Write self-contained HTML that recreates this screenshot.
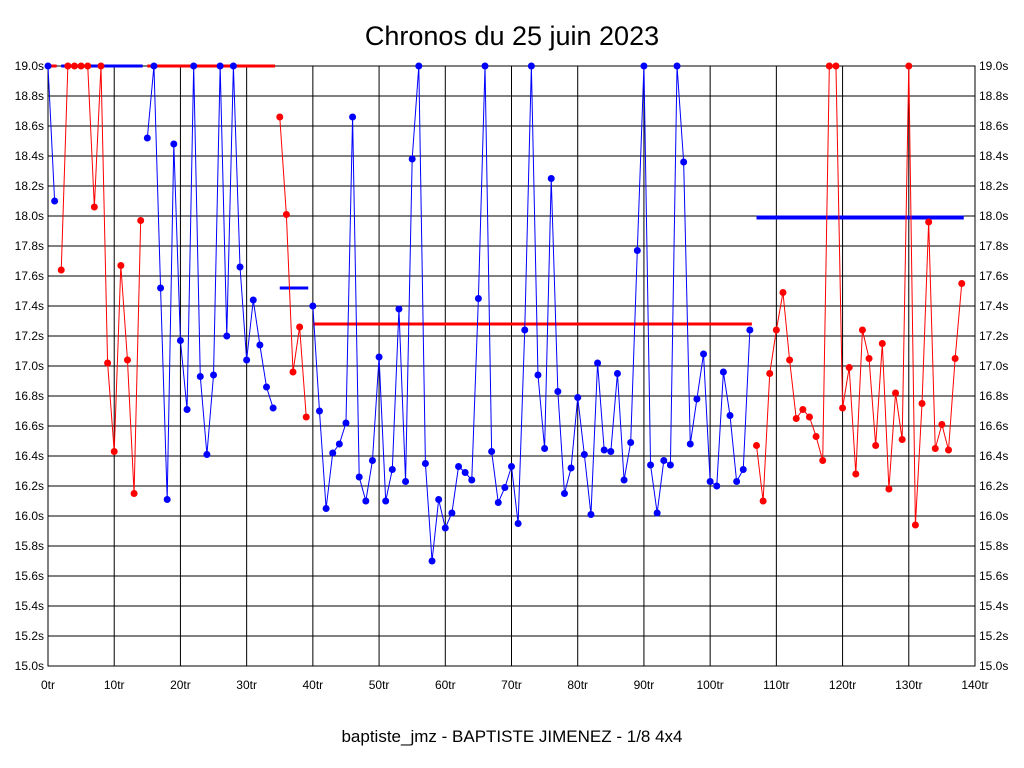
<!DOCTYPE html>
<html><head><meta charset="utf-8"><style>
body{margin:0;background:#fff;}
svg{display:block;font-family:"Liberation Sans",sans-serif;}
</style></head><body>
<svg id="chart" width="1024" height="768" viewBox="0 0 1024 768">
<rect x="0" y="0" width="1024" height="768" fill="#fff"/>
<text x="512" y="45" text-anchor="middle" font-size="27">Chronos du 25 juin 2023</text>
<text x="512" y="742" text-anchor="middle" font-size="17">baptiste_jmz - BAPTISTE JIMENEZ - 1/8 4x4</text>
<g id="grid"></g><g id="avg"></g><g id="series"></g>
</svg>
<script>
const laps = [19.0,18.10,17.64,19.0,19.0,19.0,19.0,18.06,19.0,17.02,16.43,17.67,17.04,16.15,17.97,18.52,19.0,17.52,16.11,18.48,17.17,16.71,19.0,16.93,16.41,16.94,19.0,17.20,19.0,17.66,17.04,17.44,17.14,16.86,16.72,18.66,18.01,16.96,17.26,16.66,17.40,16.70,16.05,16.42,16.48,16.62,18.66,16.26,16.10,16.37,17.06,16.10,16.31,17.38,16.23,18.38,19.0,16.35,15.70,16.11,15.92,16.02,16.33,16.29,16.24,17.45,19.0,16.43,16.09,16.19,16.33,15.95,17.24,19.0,16.94,16.45,18.25,16.83,16.15,16.32,16.79,16.41,16.01,17.02,16.44,16.43,16.95,16.24,16.49,17.77,19.0,16.34,16.02,16.37,16.34,19.0,18.36,16.48,16.78,17.08,16.23,16.20,16.96,16.67,16.23,16.31,17.24,16.47,16.10,16.95,17.24,17.49,17.04,16.65,16.71,16.66,16.53,16.37,19.0,19.0,16.72,16.99,16.28,17.24,17.05,16.47,17.15,16.18,16.82,16.51,19.0,15.94,16.75,17.96,16.45,16.61,16.44,17.05,17.55];
const segStarts = [0,2,15,35,40,107];
const segEnds = [1,14,34,39,106,138];
const segColors = ["#0000ff","#ff0000","#0000ff","#ff0000","#0000ff","#ff0000"];
const avgColors = ["#ff0000","#0000ff","#ff0000","#0000ff","#ff0000","#0000ff"];
const avgValues = [19.0,19.0,19.0,17.52,17.28,17.99];
const xTicks = [0,10,20,30,40,50,60,70,80,90,100,110,120,130,140];
const yTicks = [15.0,15.2,15.4,15.6,15.8,16.0,16.2,16.4,16.6,16.8,17.0,17.2,17.4,17.6,17.8,18.0,18.2,18.4,18.6,18.8,19.0];

const NS="http://www.w3.org/2000/svg";
const X0=48,X1=975,Y0=666,Y1=66;
const xs=v=>X0+(v/140)*(X1-X0);
const ys=v=>Y0-(v-15)/4*(Y0-Y1);
function mk(tag,attrs,parent){const e=document.createElementNS(NS,tag);for(const k in attrs)e.setAttribute(k,attrs[k]);parent.appendChild(e);return e;}
const grid=document.getElementById('grid'),avg=document.getElementById('avg'),ser=document.getElementById('series');
xTicks.forEach(t=>{
  const l=mk('line',{x1:xs(t),x2:xs(t),y1:Y1,y2:Y0,stroke:'#000','stroke-width':1},grid);
  
  
  const tx=mk('text',{x:xs(t),y:689,'text-anchor':'middle','font-size':12},grid);
  tx.textContent=t+'tr';
  
  
});
yTicks.forEach(t=>{
  const l=mk('line',{x1:X0,x2:X1,y1:ys(t),y2:ys(t),stroke:'#000','stroke-width':1},grid);
  
  
  const a=mk('text',{x:44,y:ys(t)+4,'text-anchor':'end','font-size':12},grid);
  a.textContent=t.toFixed(1)+'s';
  
  
  const b=mk('text',{x:979,y:ys(t)+4,'text-anchor':'start','font-size':12},grid);
  b.textContent=t.toFixed(1)+'s';
  
  
});
const fr=mk('rect',{x:X0,y:Y1,width:X1-X0,height:Y0-Y1,fill:'none',stroke:'#000'},grid);


avgValues.forEach((v,i)=>{
  const a=xs(segStarts[i]),b=xs(segEnds[i])+2;
  const l=mk('line',{x1:a,x2:b,y1:ys(v),y2:ys(v),stroke:avgColors[i],'stroke-width':i===5?4:3},avg);
  
  
});
segStarts.forEach((s,i)=>{
  const pts=[];for(let k=s;k<=segEnds[i];k++)pts.push(xs(k)+','+ys(laps[k]));
  const pl=mk('polyline',{points:pts.join(' '),fill:'none',stroke:segColors[i],'stroke-width':1},ser);
  
  
  for(let k=s;k<=segEnds[i];k++){
    const c=mk('circle',{cx:xs(k),cy:ys(laps[k]),r:3.5,fill:segColors[i]},ser);
    
    
  }
});
</script>
</body></html>
